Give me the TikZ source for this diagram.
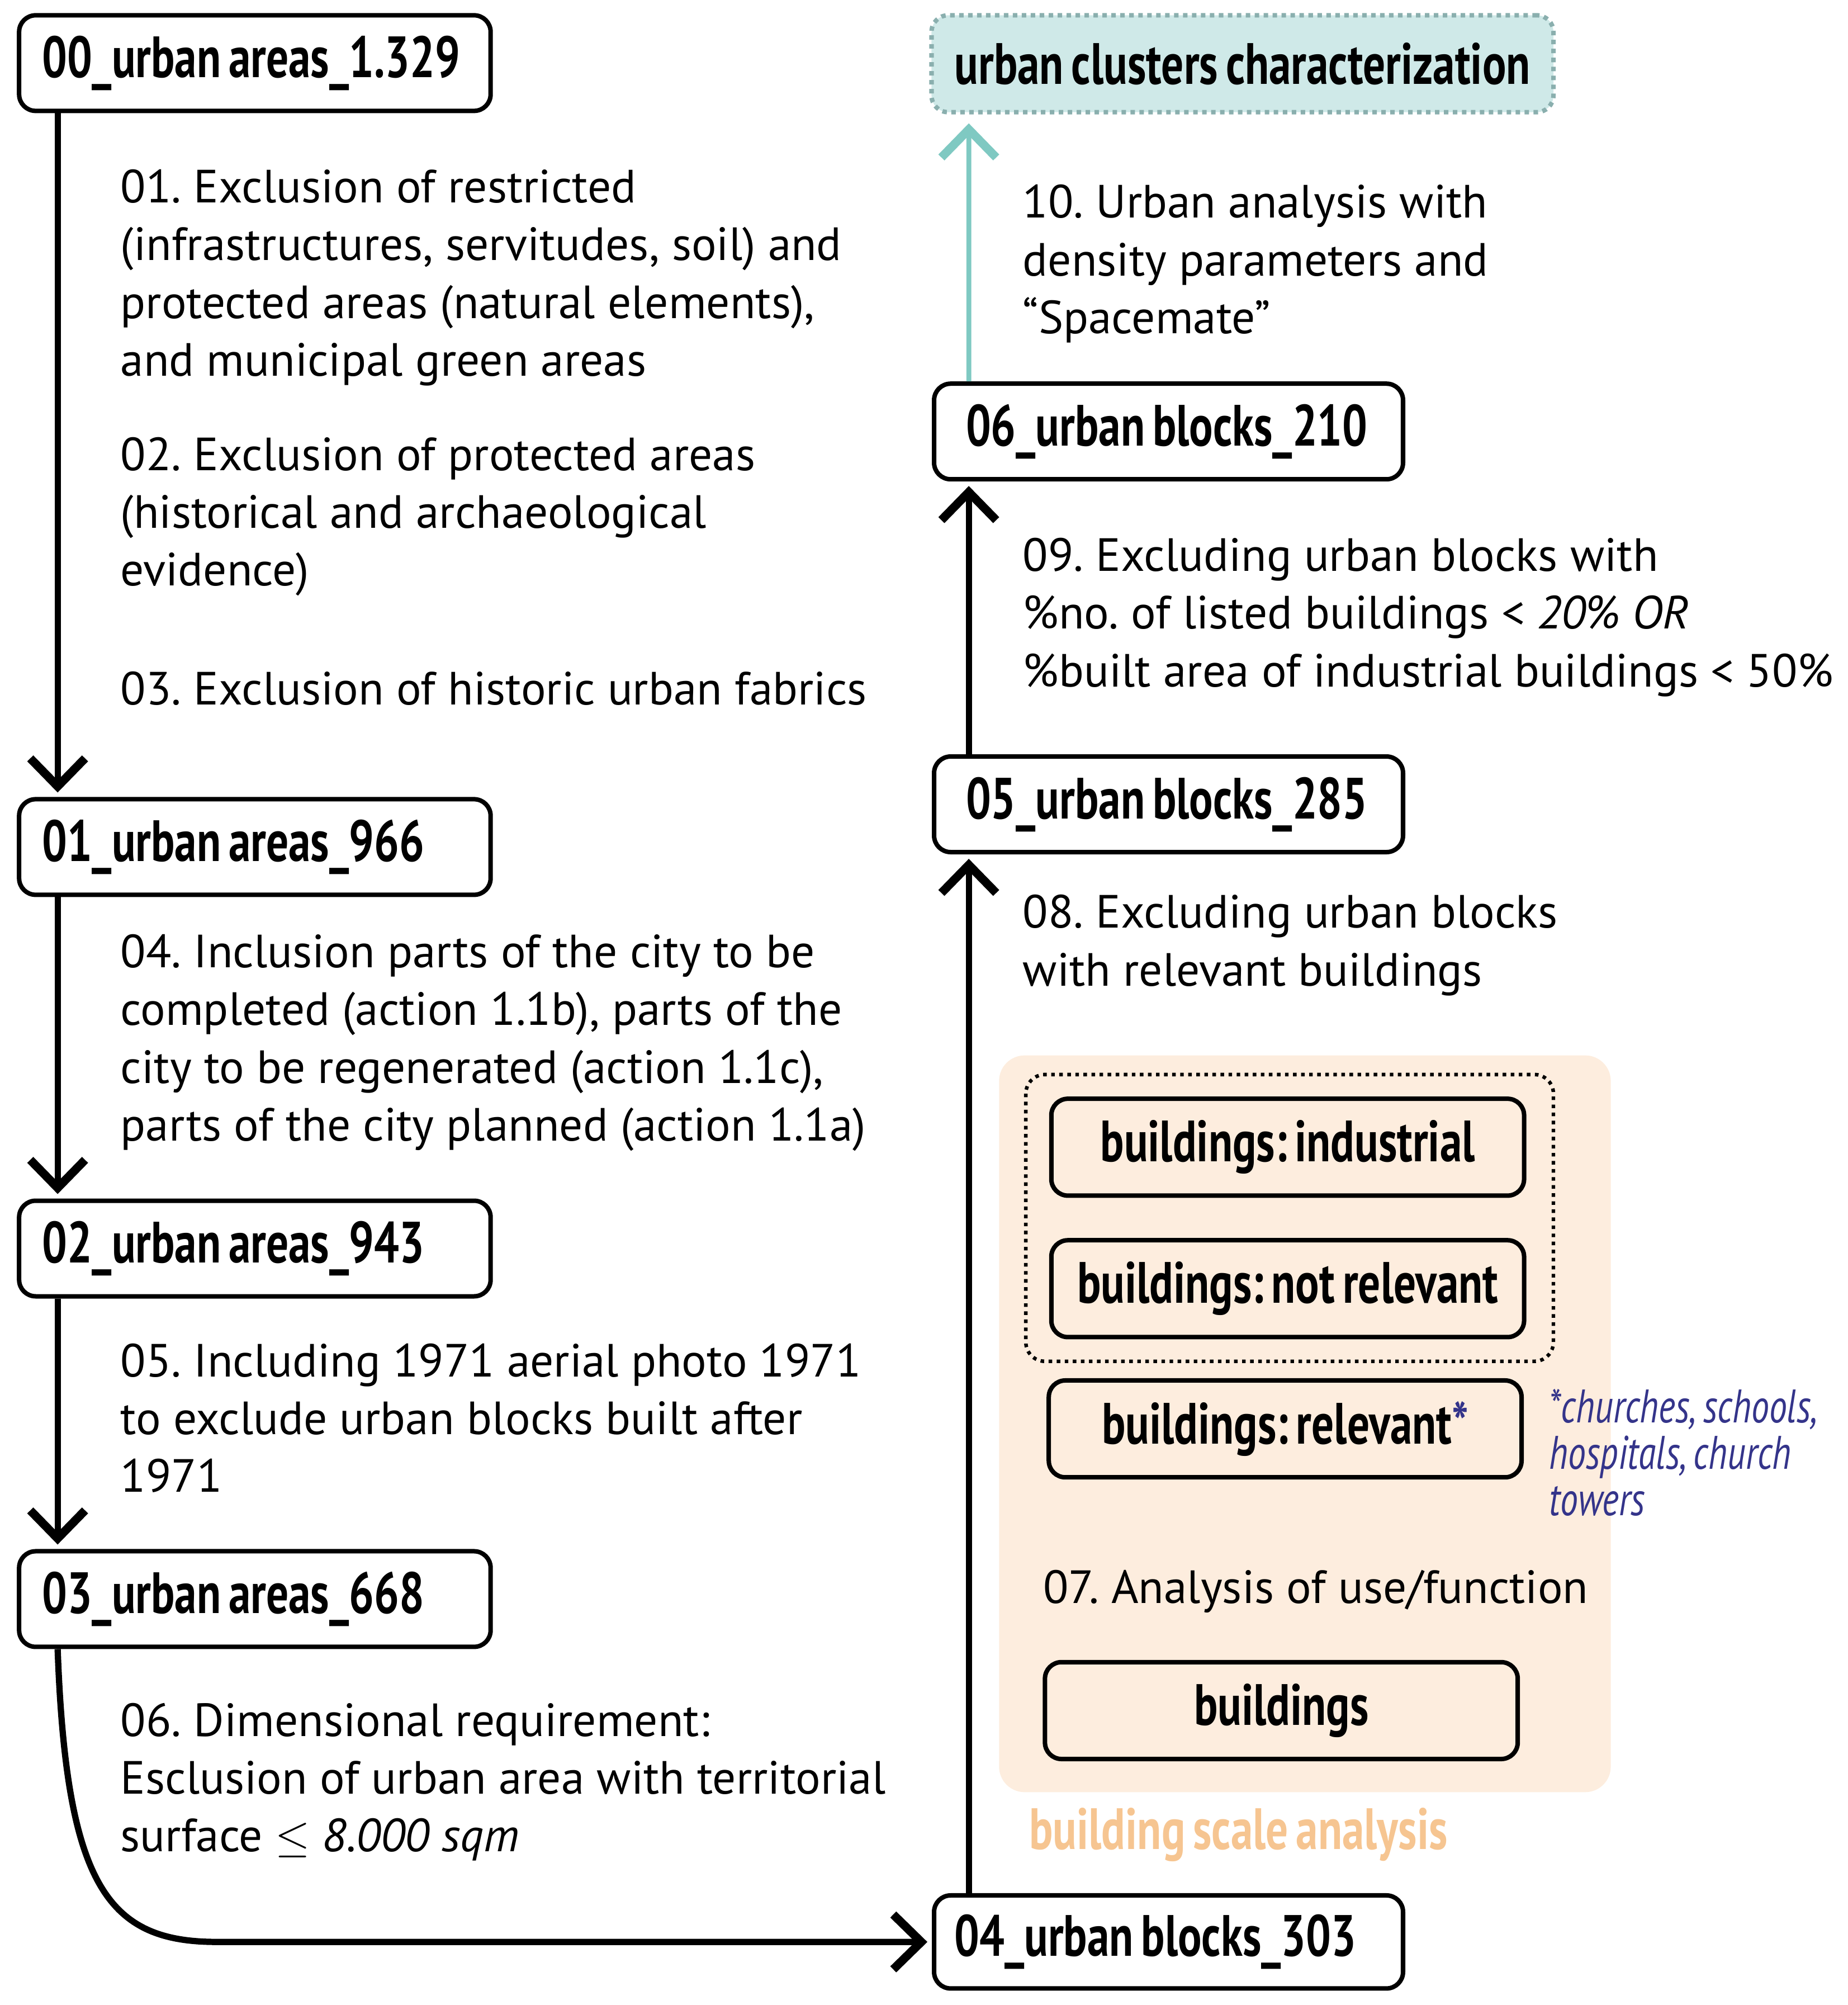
\documentclass[tikz,border=0pt]{standalone}
\usepackage{fontspec}
\setmainfont{PT Sans}
\newfontfamily\condfont[FakeStretch=0.76,WordSpace=0.7]{PT Sans}
\newcommand\boxfont{\fontsize{13}{14}\condfont\bfseries}
\usetikzlibrary{arrows.meta}
\frenchspacing

\definecolor{tealfill}{HTML}{CFE9E8}
\definecolor{tealline}{HTML}{7FC9C2}
\definecolor{tealdot}{HTML}{8AAFAE}
\definecolor{peach}{HTML}{FDEDDE}
\definecolor{peachtext}{HTML}{F6C591}
\definecolor{navy}{HTML}{34348A}

\tikzset{
  stage/.style={draw,rounded corners=0.13cm,line width=1pt,minimum width=3.7cm,minimum height=0.75cm,
    text width=3.34cm,inner xsep=0.18cm,align=flush left,font=\boxfont},
  bldg/.style={draw,rounded corners=0.13cm,line width=1pt,minimum width=3.71cm,minimum height=0.76cm,
    align=flush center,font=\boxfont},
  steptext/.style={anchor=base west,inner sep=0pt,text width=6.6cm,align=flush left,font=\fontsize{10.4}{12.9}\selectfont},
  flow/.style={line width=1.4pt,shorten >=1pt,-{Straight Barb[length=2.2mm,width=4.3mm,line width=1.9pt]}},
}

\begin{document}
\begin{tikzpicture}
  \useasboundingbox (0,0) rectangle (14.5,-15.73);

  % building scale analysis
  \fill[peach,rounded corners=0.2cm] (7.84,-8.28) rectangle (12.64,-14.06);
  \draw[densely dotted,line width=0.8pt,rounded corners=0.15cm] (8.05,-8.43) rectangle (12.19,-10.68);

  % left column
  \node[stage](u00)at(2,-0.495){00\_urban areas\_1.329};
  \node[stage](u01)at(2,-6.645){01\_urban areas\_966};
  \node[stage](u02)at(2,-9.795){02\_urban areas\_943};
  \node[stage](u03)at(2,-12.545){03\_urban areas\_668};

  \node[steptext](s01)at(0.94,-1.59){01. Exclusion of restricted\\(infrastructures, servitudes, soil) and\\protected areas (natural elements),\\and municipal green areas};
  \node[steptext](s02)at(0.94,-3.69){02. Exclusion of protected areas\\(historical and archaeological\\evidence)};
  \node[steptext](s03)at(0.94,-5.53){03. Exclusion of historic urban fabrics};
  \node[steptext](s04)at(0.94,-7.59){04. Inclusion parts of the city to be\\completed (action 1.1b), parts of the\\city to be regenerated (action 1.1c),\\parts of the city planned (action 1.1a)};
  \node[steptext](s05)at(0.94,-10.80){05. Including 1971 aerial photo 1971\\to exclude urban blocks built after\\1971};
  \node[steptext](s06)at(0.94,-13.62){06. Dimensional requirement:\\Esclusion of urban area with territorial\\surface ${\leq}$ \textit{8.000 sqm}};

  % right column
  \node[stage,minimum width=3.68cm,minimum height=0.73cm,inner xsep=0.16cm,text width=3.36cm](b04)at(9.17,-15.235){04\_urban blocks\_303};
  \node[stage,minimum width=3.68cm,inner xsep=0.16cm,text width=3.36cm](b05)at(9.17,-6.31){\hspace*{0.09cm}05\_urban blocks\_285};
  \node[stage,minimum width=3.68cm,inner xsep=0.16cm,text width=3.36cm](b06)at(9.17,-3.385){\hspace*{0.09cm}06\_urban blocks\_210};
  \node[stage,draw=tealdot,densely dotted,fill=tealfill,minimum width=4.88cm,minimum height=0.76cm,text width=4.56cm,inner xsep=0.16cm,align=flush center](uc)at(9.75,-0.50){urban clusters characterization};

  \node[steptext](s10)at(8.02,-1.71){10. Urban analysis with\\density parameters and\\“Spacemate”};
  \node[steptext](s09)at(8.02,-4.48){09. Excluding urban blocks with\\\%no. of listed buildings < \textit{20\% OR}\\\%built area of industrial buildings < 50\%};
  \node[steptext](s08)at(8.02,-7.28){08. Excluding urban blocks\\with relevant buildings};

  \node[bldg](bi)at(10.105,-9.00){buildings: industrial};
  \node[bldg](bn)at(10.105,-10.11){buildings: not relevant};
  \node[bldg](br)at(10.085,-11.21){buildings: relevant\textcolor{navy}{*}};
  \node[anchor=base west,inner sep=0pt,text width=2.4cm,align=flush left,text=navy,font=\fontsize{10.5}{10.4}\condfont\itshape](nt)at(12.15,-11.16){*churches, schools,\\hospitals, church\\towers};
  \node[steptext](s07)at(8.18,-12.58){07. Analysis of use/function};
  \node[bldg](bb)at(10.055,-13.42){buildings};
  \node[anchor=base west,inner sep=0pt,text=peachtext,font=\boxfont](bsa)at(8.07,-14.51){building scale analysis};

  % connectors
  \draw[flow] ([xshift=0.32cm]u00.south west) -- ([xshift=0.32cm]u01.north west);
  \draw[flow] ([xshift=0.32cm]u01.south west) -- ([xshift=0.32cm]u02.north west);
  \draw[flow] ([xshift=0.32cm]u02.south west) -- ([xshift=0.32cm]u03.north west);
  \coordinate (bend) at (1.7,-15.235);
  \draw[flow] ([xshift=0.32cm]u03.south west) .. controls (0.52,-14.8) and (0.85,-15.235) .. (bend) -- (b04.west);
  \draw[flow] ([xshift=0.29cm]b04.north west) -- ([xshift=0.29cm]b05.south west);
  \draw[flow] ([xshift=0.29cm]b05.north west) -- ([xshift=0.29cm]b06.south west);
  \draw[flow,tealline,line width=1.1pt,shorten >=0.07cm] ([xshift=0.29cm]b06.north west) -- ([xshift=0.31cm]uc.south west);
\end{tikzpicture}
\end{document}
